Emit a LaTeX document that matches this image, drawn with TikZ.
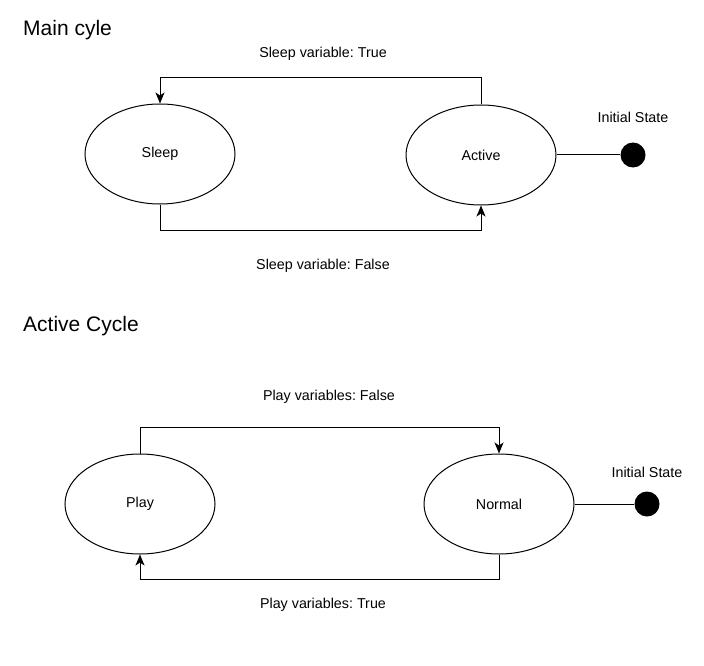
\documentclass[tikz,border=0pt]{standalone}
\usepackage{fontspec}
\setmainfont{Liberation Sans}
\usetikzlibrary{arrows.meta,shapes.geometric}
\frenchspacing
\begin{document}
\begin{tikzpicture}[x=1pt,y=-1pt,
  state/.style={draw,ellipse,line width=1pt,minimum width=150pt,minimum height=100pt,inner sep=0pt,font=\fontsize{14.3}{16}\selectfont},
  lbl/.style={font=\fontsize{14.3}{16}\selectfont,inner sep=0pt},
  ttl/.style={font=\fontsize{21}{24}\selectfont,anchor=west,inner sep=0pt},
  conn/.style={line width=1pt},
  arr/.style={conn,-{Stealth[length=11pt,width=9pt,inset=3pt]}},
  initdot/.style={circle,fill=black,minimum size=25pt,inner sep=0pt}]
\useasboundingbox (0,0) rectangle (704,666);
% Main cycle
\node[ttl] (t1) at (23,30) {Main cyle};
\node[state] (sleep) at (160,154) {\raisebox{-2pt}{Sleep}};
\node[state] (active) at (481,155) {\raisebox{-2pt}{Active}};
\node[initdot] (i1) at (633,155) {};
\node[lbl] (il1) at (633,117) {Initial State};
\node[lbl] (l1) at (323,54) {Sleep variable: True};
\node[lbl] (l2) at (323,266) {Sleep variable: False};
\draw[arr] (active.north) -- ++(0,-27) -| (sleep.north);
\draw[arr] (sleep.south) -- ++(0,26) -| (active.south);
\draw[conn] (active.east) -- (i1);
% Active cycle
\node[ttl] (t2) at (23,326) {Active Cycle};
\node[state] (play) at (140,504) {\raisebox{-2pt}{Play}};
\node[state] (normal) at (499,504) {\raisebox{-2pt}{Normal}};
\node[initdot] (i2) at (647,504) {};
\node[lbl] (il2) at (647,472) {Initial State};
\node[lbl] (l3) at (329,397) {Play variables: False};
\node[lbl] (l4) at (323,605) {Play variables: True};
\draw[arr] (play.north) -- ++(0,-26) -| (normal.north);
\draw[arr] (normal.south) -- ++(0,25) -| (play.south);
\draw[conn] (normal.east) -- (i2);
\end{tikzpicture}
\end{document}
